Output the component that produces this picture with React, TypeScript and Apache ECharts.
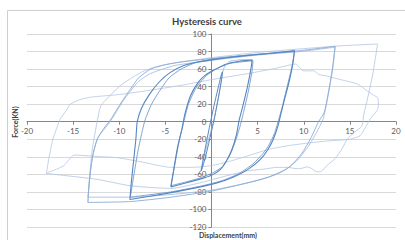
import React, { useEffect, useRef } from 'react';
import * as echarts from 'echarts';

// Axis ranges / ticks
const xMin = -20, xMax = 20, xStep = 5;
const yMin = -120, yMax = 100, yStep = 20;

const titleText = 'Hysteresis curve';
const xTitle = 'Displacement(mm)';
const yTitle = 'Force(KN)';

// Loops: [displacement (mm), force (kN)]
const loopA1 = [[-1.1,-56],[-0.85,-40],[-0.45,-18],[-0.1,0],[0.35,22],[0.8,42],[1.1,55],[1.2,57],[1.05,45],[0.7,25],[0.3,3],[-0.2,-20],[-0.7,-42],[-1.1,-56]];
const loopA2 = [[-1.2,-57],[-0.7,-35],[0.2,0],[0.8,30],[1.3,60],[1.9,68.5],[3,70.5],[4.4,71]];
const loopB1 = [[-4.4,-74.5],[-4.1,-55],[-3.7,-30],[-3.2,-8],[-2.9,8],[-2.3,29],[-1.5,44],[-0.8,52],[0.1,58],[1.7,66],[3,69],[4.4,70.5],[4.3,62],[3.9,40],[3.4,18],[3.0,2],[2.7,-15],[2.2,-32],[1.6,-45],[1.0,-54],[0.2,-60],[-0.8,-64],[-2.5,-69],[-4.4,-74.5]];
const loopB2 = [[-4.4,-73],[-4.0,-50],[-3.5,-22],[-3.0,0],[-2.5,20],[-1.6,40],[-0.5,53],[0.5,60],[2,66.5],[4.5,69.5],[4.4,58],[4.0,35],[3.5,12],[3.1,-5],[2.6,-22],[2.0,-38],[1.2,-51],[0.2,-58],[-1.5,-65],[-4.4,-73]];
const loopC1 = [[-8.85,-88.6],[-8.7,-70],[-8.45,-45],[-8.2,-20],[-8.05,0],[-7.6,15],[-6.8,30],[-5.7,45],[-4.5,56],[-3,64],[-1.5,68],[0,70.5],[3,74.5],[6,77.5],[9,81],[8.8,65],[8.4,45],[7.9,25],[7.5,8],[7.2,-5],[6.7,-20],[6.1,-32],[5.3,-43],[4,-54],[2.4,-63],[0.5,-70],[-2,-76],[-5,-82],[-8.85,-88.6]];
const loopC2 = [[-8.8,-86],[-8.4,-60],[-8.0,-35],[-7.6,-15],[-7.2,2],[-6.5,20],[-5.7,34],[-4.6,50],[-3.3,60],[-1.8,67],[0.1,71.5],[4,76],[9,80],[8.7,62],[8.2,40],[7.7,18],[7.3,3],[6.8,-14],[6.2,-27],[5.6,-36],[4.5,-48],[3,-59],[1.2,-67],[-1,-73],[-4.4,-80],[-8.8,-86]];
const loopD1 = [[-13.4,-92],[-13.3,-75],[-13.1,-54],[-12.8,-35],[-12.4,-20],[-11.7,-8],[-10.9,3],[-9.9,20],[-8.8,37],[-7.9,50],[-6.6,60],[-5,65],[-3,68.5],[0,72],[5,77],[9.6,81],[13.4,86],[13.1,60],[12.7,35],[12.2,10],[11.6,0],[10.8,-18],[9.8,-36],[8.4,-52],[6.2,-63],[3,-72],[0,-79],[-4.4,-86],[-8.8,-91],[-13.4,-92]];
const loopD2 = [[-13.4,-86],[-13.2,-65],[-12.9,-40],[-12.3,-18],[-11.2,-3],[-10.5,8],[-9.5,25],[-8,45],[-6.6,55],[-4,64],[0,70],[5,76],[9.6,80],[13.4,85],[13.2,65],[12.9,45],[12.5,22],[12.1,3],[11.4,-12],[10.5,-28],[9.2,-45],[7.5,-58],[5,-67],[2,-74],[0,-78],[-4.4,-83],[-8.8,-86],[-13.4,-86]];
const loopE1 = [[-13.4,-92],[-13.2,-60],[-12.9,-30],[-12.4,0],[-12,18],[-11,30],[-9.9,41],[-8.5,51],[-7.3,58],[-5.5,64],[-3.7,67.6],[0,73],[5,79],[9.6,83],[14,86.5],[18,88.6],[17.8,75],[17.5,55],[17.2,40],[16.9,25.7],[16.5,8],[16.3,-5],[15.5,-12],[14.7,-20],[14.2,-30],[13.4,-42],[12.5,-50],[11.8,-57],[11.4,-57],[10.8,-53],[10.4,-51.5],[9.8,-53],[9.3,-53.5],[8.2,-52],[7.1,-52],[5.7,-54],[3.9,-56],[1.5,-62],[-1,-69],[-4.4,-76],[-8.8,-73],[-12.4,-65.7],[-17.9,-59]];
const loopE2 = [[-17.9,-59],[-17.6,-40],[-17.2,-20],[-16.8,-8],[-16.4,3],[-15.8,12],[-15.3,20],[-14.3,25],[-13.1,28],[-10,31],[-6.6,36],[-3,42],[0,48],[4,55],[7,61],[9.1,65.7],[10,58],[11.1,58],[11.6,54],[12.5,52],[14,48],[15.8,43],[16.9,35],[17.6,30],[18,27.6],[18.1,20],[18,14],[17.6,8],[17.2,3],[16.6,-8],[16.1,-16],[15,-20],[12.5,-22],[10.7,-24],[8.5,-27],[6.4,-31],[3.9,-39],[2,-45],[0,-50],[-2,-52],[-4.4,-52],[-7.5,-46],[-10.2,-41],[-12.5,-39.5],[-14.9,-38],[-15.5,-44],[-16,-50],[-17,-55],[-17.8,-58]];

const loops = [
  { name: 'E2', data: loopE2, color: '#b3c8e5', width: 0.8 },
  { name: 'E1', data: loopE1, color: '#aec4e3', width: 0.8 },
  { name: 'D2', data: loopD2, color: '#9ab6dc', width: 0.8 },
  { name: 'D1', data: loopD1, color: '#8aaad5', width: 0.9 },
  { name: 'C2', data: loopC2, color: '#7399cc', width: 0.9 },
  { name: 'C1', data: loopC1, color: '#5585c0', width: 1.1 },
  { name: 'B2', data: loopB2, color: '#7399cc', width: 0.9 },
  { name: 'B1', data: loopB1, color: '#5585c0', width: 1.1 },
  { name: 'A2', data: loopA2, color: '#9ab6dc', width: 0.8 },
  { name: 'A1', data: loopA1, color: '#5585c0', width: 1 },
];

const FONT = 'Lato, "Liberation Sans", sans-serif';

// grid geometry
const gridLeft = 27, gridRight = 9, gridTop = 34, gridBottom = 13;
const W = 405, H = 240;

export default function App() {
  const ref = useRef<HTMLDivElement>(null);
  useEffect(() => {
    if (!ref.current) return;
    const chart = echarts.init(ref.current, null, { renderer: 'svg' });
    const gw = W - gridLeft - gridRight;
    const gh = H - gridTop - gridBottom;
    const xZeroOffset = -gw * (0 - xMin) / (xMax - xMin);
    const yZeroOffset = -gh * (0 - yMin) / (yMax - yMin);
    chart.setOption({
      animation: false,
      backgroundColor: '#ffffff',
      grid: { left: gridLeft, right: gridRight, top: gridTop, bottom: gridBottom, containLabel: false },
      xAxis: {
        type: 'value', min: xMin, max: xMax, interval: xStep,
        position: 'bottom', offset: yZeroOffset,
        axisLine: { onZero: false, lineStyle: { color: '#868686', width: 1 } },
        axisTick: { show: true, length: 3, lineStyle: { color: '#868686' } },
        axisLabel: { color: '#595959', fontSize: 8, fontFamily: FONT, margin: 5,
          formatter: (v: number) => (v === 0 ? '' : String(v)) },
        splitLine: { show: false },
      },
      yAxis: {
        type: 'value', min: yMin, max: yMax, interval: yStep,
        position: 'left', offset: xZeroOffset,
        axisLine: { show: true, onZero: false, lineStyle: { color: '#868686', width: 1 } },
        axisTick: { show: true, length: 3, lineStyle: { color: '#868686' } },
        axisLabel: { color: '#595959', fontSize: 8, fontFamily: FONT, margin: 5 },
        splitLine: { show: true, lineStyle: { color: '#d9d9d9', width: 1 } },
      },
      graphic: [
        { type: 'rect', shape: { x: 7.5, y: 10.5, width: 430, height: 260 },
          style: { fill: 'none', stroke: '#cfcfcf', lineWidth: 1 }, silent: true },
        { type: 'text', x: 207, y: 21.5,
          style: { text: titleText, fill: '#404040', font: `bold 9.5px ${FONT}`, align: 'center', verticalAlign: 'middle' } },
        { type: 'text', x: 228, y: 235,
          style: { text: xTitle, fill: '#404040', font: `bold 7px ${FONT}`, align: 'center', verticalAlign: 'middle' } },
        { type: 'text', x: 15, y: 122, rotation: Math.PI / 2,
          style: { text: yTitle, fill: '#404040', font: `bold 7px ${FONT}`, align: 'center', verticalAlign: 'middle' } },
      ],
      series: loops.map((l) => ({
        name: l.name,
        type: 'line',
        data: l.data,
        showSymbol: false,
        symbol: 'none',
        smooth: 0.2,
        lineStyle: { color: l.color, width: l.width },
        emphasis: { disabled: true },
      })),
    });
    return () => chart.dispose();
  }, []);
  return <div ref={ref} style={{ position: 'fixed', left: 0, top: 0, width: W, height: H }} />;
}
